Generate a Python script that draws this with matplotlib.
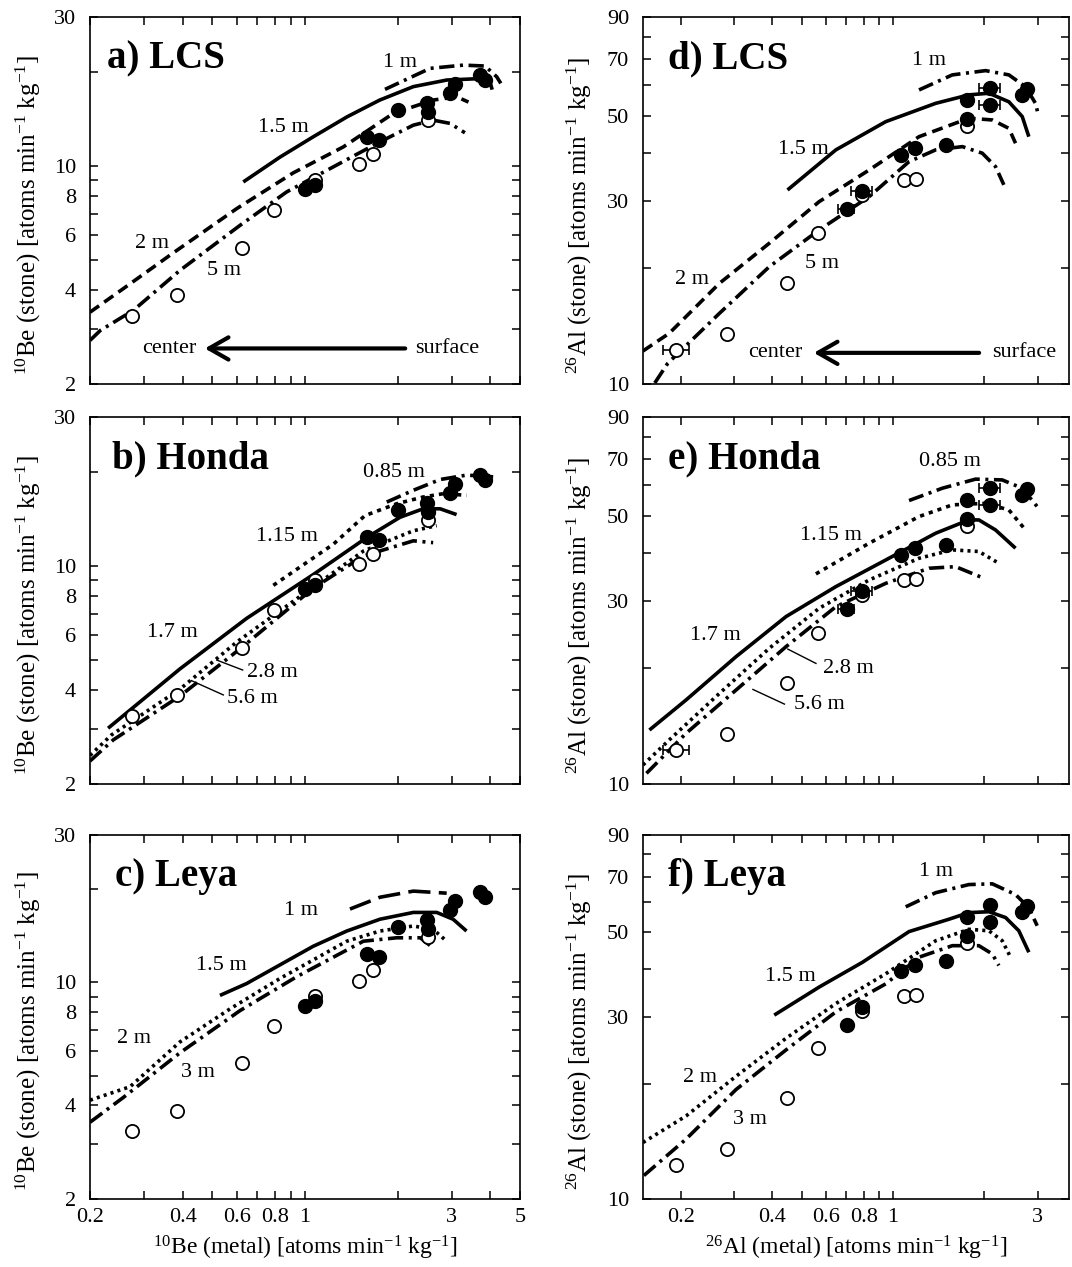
import matplotlib
matplotlib.use("Agg")
import matplotlib.pyplot as plt

plt.rcParams['font.family'] = ['Liberation Serif', 'DejaVu Serif']
plt.rcParams['mathtext.fontset'] = 'custom'
plt.rcParams['mathtext.rm'] = 'Liberation Serif'
plt.rcParams['mathtext.it'] = 'Liberation Serif:italic'
plt.rcParams['mathtext.bf'] = 'Liberation Serif:bold'
plt.rcParams['lines.scale_dashes'] = False

# measured samples, 10Be (same in panels a-c)
be_open_x = [0.274, 0.383, 0.625, 0.793, 1.078, 1.50, 1.667, 2.516]
be_open_y = [3.30, 3.85, 5.48, 7.22, 9.02, 10.13, 10.98, 14.05]
be_filled_x = [1.0, 1.078, 1.594, 1.744, 2.01, 2.487, 2.516, 2.95, 3.08, 3.71, 3.85]
be_filled_y = [8.42, 8.69, 12.37, 12.12, 15.13, 15.97, 14.94, 17.2, 18.3, 19.61, 18.89]

# measured samples, 26Al (same in panels d-f)
al_open_x = [0.193, 0.283, 0.446, 0.564, 0.793, 1.087, 1.188, 1.757]
al_open_y = [12.26, 13.5, 18.36, 24.77, 31.05, 33.98, 34.12, 46.97]
al_open_xerr = [0.019, 0.006, 0, 0, 0, 0, 0, 0]
al_filled_x = [0.703, 0.789, 1.066, 1.181, 1.491, 1.757, 1.757, 2.085, 2.085, 2.665, 2.768]
al_filled_y = [28.51, 31.86, 39.48, 41.11, 41.93, 54.9, 48.9, 59.1, 53.3, 56.6, 58.5]
al_filled_xerr = [0.042, 0.063, 0, 0.035, 0, 0, 0, 0.17, 0.17, 0, 0]

# model curves, LCS 10Be
lcs_be_1m_x = [1.82, 2.55, 3.27, 3.85, 4.2, 4.33]
lcs_be_1m_y = [17.64, 20.6, 21.1, 20.96, 19.36, 18.44]
lcs_be_15m_x = [0.63, 0.83, 1.06, 1.37, 1.75, 2.25, 2.89, 3.71, 3.99, 4.06]
lcs_be_15m_y = [8.9, 10.7, 12.4, 14.4, 16.3, 18.0, 18.9, 19.1, 18.7, 17.6]
lcs_be_2m_x = [0.2, 0.257, 0.373, 0.6, 0.916, 1.332, 1.936, 2.61, 3.11, 3.40]
lcs_be_2m_y = [3.40, 4.05, 5.27, 7.31, 9.52, 11.53, 14.77, 16.3, 16.7, 16.06]
lcs_be_5m_x = [0.2, 0.216, 0.277, 0.392, 0.615, 0.872, 1.236, 1.753, 2.25, 2.61, 2.96, 3.31]
lcs_be_5m_y = [2.76, 2.97, 3.45, 4.63, 6.46, 8.27, 9.95, 11.97, 13.54, 14.05, 13.72, 12.8]

# model curves, Honda 10Be
honda_be_085m_x = [1.844, 2.25, 2.75, 3.35, 4.09]
honda_be_085m_y = [16.06, 17.52, 18.97, 19.6, 19.35]
honda_be_115m_x = [0.789, 1.236, 1.566, 1.986, 2.42, 2.82, 3.35]
honda_be_115m_y = [8.68, 11.76, 14.53, 15.86, 16.67, 17.09, 16.88]
honda_be_17m_x = [0.229, 0.392, 0.646, 1.064, 1.588, 2.036, 2.42, 2.75, 3.11]
honda_be_17m_y = [3.02, 4.68, 6.80, 9.40, 12.36, 14.35, 15.28, 15.28, 14.64]
honda_be_28m_x = [0.2, 0.235, 0.392, 0.60, 1.013, 1.548, 1.753, 2.25, 2.68]
honda_be_28m_y = [2.47, 2.875, 4.03, 5.71, 8.29, 11.18, 11.76, 12.99, 13.49]
honda_be_56m_x = [0.2, 0.238, 0.392, 0.615, 1.064, 1.548, 2.25, 2.61]
honda_be_56m_y = [2.37, 2.77, 3.83, 5.43, 8.50, 10.78, 12.06, 11.9]

# model curves, Leya 10Be
leya_be_1m_x = [1.40, 1.753, 2.25, 2.888]
leya_be_1m_y = [17.28, 18.87, 19.75, 19.45]
leya_be_15m_x = [0.529, 0.646, 0.829, 1.064, 1.367, 1.753, 2.25, 2.68, 3.03, 3.35]
leya_be_15m_y = [9.08, 9.92, 11.4, 13.1, 14.67, 16.02, 16.85, 16.85, 16.02, 14.67]
leya_be_2m_x = [0.2, 0.270, 0.392, 0.570, 0.829, 1.367, 1.753, 2.25, 2.61, 2.888]
leya_be_2m_y = [4.16, 4.60, 6.42, 8.21, 10.3, 13.6, 14.67, 15.23, 14.85, 13.6]
leya_be_3m_x = [0.2, 0.257, 0.392, 0.615, 0.94, 1.548, 1.986, 2.37, 2.61]
leya_be_3m_y = [3.53, 4.25, 5.92, 8.11, 10.44, 13.6, 13.95, 13.95, 12.93]

# model curves, LCS 26Al
lcs_al_1m_x = [1.218, 1.568, 2.018, 2.408, 2.733, 2.947, 3.02]
lcs_al_1m_y = [58.3, 63.8, 65.45, 63.8, 59.4, 53.8, 49.7]
lcs_al_15m_x = [0.449, 0.648, 0.946, 1.382, 1.778, 2.07, 2.408, 2.665, 2.802]
lcs_al_15m_y = [32.0, 40.7, 48.2, 53.8, 56.6, 57.15, 54.3, 49.7, 44.05]
lcs_al_2m_x = [0.150, 0.183, 0.268, 0.391, 0.571, 0.834, 1.218, 1.778, 2.123, 2.408, 2.533]
lcs_al_2m_y = [12.19, 13.55, 18.29, 23.25, 29.84, 36.07, 44.05, 49.2, 48.7, 46.3, 42.35]
lcs_al_5m_x = [0.164, 0.181, 0.268, 0.391, 0.571, 0.834, 1.129, 1.382, 1.692, 1.968, 2.177, 2.318]
lcs_al_5m_y = [10.06, 11.32, 15.28, 20.2, 25.18, 30.74, 37.93, 40.7, 41.5, 39.9, 36.8, 33.0]

# model curves, Honda 26Al
honda_al_085m_x = [1.129, 1.454, 1.871, 2.29, 2.665, 2.985]
honda_al_085m_y = [54.7, 58.9, 62.2, 61.9, 58.9, 52.75]
honda_al_115m_x = [0.557, 0.834, 1.218, 1.568, 2.018, 2.408, 2.733]
honda_al_115m_y = [35.24, 42.35, 49.7, 53.3, 53.8, 51.7, 45.85]
honda_al_17m_x = [0.1575, 0.208, 0.304, 0.444, 0.648, 0.946, 1.382, 1.778, 1.918, 2.177, 2.533]
honda_al_17m_y = [13.82, 16.55, 21.46, 27.28, 32.65, 38.3, 44.97, 48.7, 48.7, 45.85, 41.1]
honda_al_28m_x = [0.15, 0.183, 0.268, 0.391, 0.571, 0.834, 1.218, 1.568, 1.918, 2.232]
honda_al_28m_y = [11.21, 13.02, 17.22, 22.56, 28.68, 33.98, 38.7, 40.7, 40.3, 37.55]
honda_al_56m_x = [0.154, 0.208, 0.304, 0.444, 0.648, 0.946, 1.314, 1.608, 1.992]
honda_al_56m_y = [10.66, 13.55, 17.57, 22.78, 28.95, 33.3, 36.45, 36.8, 34.33]

# model curves, Leya 26Al
leya_al_1m_x = [1.101, 1.382, 1.778, 2.123, 2.533, 2.802, 2.985]
leya_al_1m_y = [58.3, 63.5, 66.7, 67.0, 62.8, 58.0, 52.0]
leya_al_15m_x = [0.406, 0.571, 0.793, 1.129, 1.529, 1.778, 2.07, 2.348, 2.597, 2.802]
leya_al_15m_y = [30.3, 35.9, 41.7, 50.2, 54.1, 56.3, 56.6, 54.65, 50.45, 44.3]
leya_al_2m_x = [0.150, 0.208, 0.304, 0.444, 0.648, 0.946, 1.382, 1.778, 2.07, 2.29, 2.439]
leya_al_2m_y = [14.03, 16.47, 20.94, 26.34, 32.5, 38.9, 47.5, 50.9, 50.45, 47.5, 43.0]
leya_al_3m_x = [0.151, 0.208, 0.304, 0.444, 0.648, 0.946, 1.218, 1.568, 1.918, 2.123, 2.232]
leya_al_3m_y = [11.49, 14.32, 19.33, 24.55, 30.9, 36.6, 43.0, 46.1, 46.1, 43.85, 40.9]

be_xticks = [0.2, 0.3, 0.4, 0.5, 0.6, 0.7, 0.8, 0.9, 1, 2, 3, 4, 5]
be_xticklabels = ['0.2', '', '0.4', '', '0.6', '', '0.8', '', '1', '', '3', '', '5']
be_yticks = [2, 3, 4, 5, 6, 7, 8, 9, 10, 20, 30]
be_yticklabels = ['2', '', '4', '', '6', '', '8', '', '10', '', '30']
al_xticks = [0.2, 0.3, 0.4, 0.5, 0.6, 0.7, 0.8, 0.9, 1, 2, 3]
al_xticklabels = ['0.2', '', '0.4', '', '0.6', '', '0.8', '', '1', '', '3']
al_yticks = [10, 20, 30, 40, 50, 60, 70, 80, 90]
al_yticklabels = ['10', '', '30', '', '50', '', '70', '', '90']

STYLES = {
    'solid': dict(linestyle='-'),
    'dash': dict(dashes=(8, 4.5)),
    'dashdot': dict(dashes=(11, 4, 2.2, 4)),
    'longdash': dict(dashes=(16, 6)),
    'dot': dict(dashes=(2.2, 3.0)),
    'bigdot': dict(dashes=(3.0, 3.6)),
}


def curve(ax, x, y, style):
    ax.plot(x, y, color='black', lw=2.6, solid_capstyle='butt',
            dash_capstyle='butt', zorder=2, **STYLES[style])


def label(ax, x, y, s, **kw):
    ax.text(x, y, s, transform=ax.transAxes, fontsize=16, ha='center', va='center', **kw)


def title(ax, x, s):
    ax.text(x, 0.86, s, transform=ax.transAxes, fontsize=28, fontweight='bold',
            ha='left', va='baseline')


def leader(ax, x0, y0, x1, y1):
    ax.plot([x0, x1], [y0, y1], color='black', lw=1.0, transform=ax.transAxes)


def arrow(ax, y, x_from, x_to):
    ax.annotate('', xy=(x_to, y), xytext=(x_from, y), xycoords='axes fraction',
                arrowprops=dict(arrowstyle='->,head_length=0.7,head_width=0.4',
                                lw=3, color='black', mutation_scale=20,
                                shrinkA=0, shrinkB=0))


def setup(ax, kind, bottom):
    ax.set_xscale('log')
    ax.set_yscale('log')
    if kind == 'be':
        ax.set_xlim(0.2, 5)
        ax.set_ylim(2, 30)
        ax.set_xticks(be_xticks, labels=be_xticklabels if bottom else [''] * len(be_xticks))
        ax.set_yticks(be_yticks, labels=be_yticklabels)
        ax.set_ylabel(r'$^{10}$Be (stone) [atoms min$^{-1}$ kg$^{-1}$]', fontsize=18)
        ax.yaxis.set_label_coords(-0.11, 0.46)
        if bottom:
            ax.set_xlabel(r'$^{10}$Be (metal) [atoms min$^{-1}$ kg$^{-1}$]', fontsize=17, labelpad=5)
    else:
        ax.set_xlim(0.15, 3.8)
        ax.set_ylim(10, 90)
        ax.set_xticks(al_xticks, labels=al_xticklabels if bottom else [''] * len(al_xticks))
        ax.set_yticks(al_yticks, labels=al_yticklabels)
        ax.set_ylabel(r'$^{26}$Al (stone) [atoms min$^{-1}$ kg$^{-1}$]', fontsize=18)
        ax.yaxis.set_label_coords(-0.115, 0.46)
        if bottom:
            ax.set_xlabel(r'$^{26}$Al (metal) [atoms min$^{-1}$ kg$^{-1}$]', fontsize=17, labelpad=5)
    ax.minorticks_off()
    ax.tick_params(which='both', direction='in', top=True, right=True,
                   length=6, width=1.1, labelsize=16)
    ax.tick_params(axis='x', pad=7)
    ax.tick_params(axis='y', pad=10)
    for sp in ax.spines.values():
        sp.set_linewidth(1.2)


def points(ax, kind, errors):
    if kind == 'be':
        ax.plot(be_open_x, be_open_y, 'o', ms=9.5, mfc='white', mec='black', mew=1.3, zorder=3)
        ax.plot(be_filled_x, be_filled_y, 'o', ms=10, color='black', zorder=4)
    else:
        if errors:
            ax.errorbar(al_open_x, al_open_y, xerr=al_open_xerr, fmt='none', ecolor='black',
                        elinewidth=1.2, capsize=3.5, capthick=1.2, zorder=3)
            ax.errorbar(al_filled_x, al_filled_y, xerr=al_filled_xerr, fmt='none', ecolor='black',
                        elinewidth=1.2, capsize=3.5, capthick=1.2, zorder=3)
        ax.plot(al_open_x, al_open_y, 'o', ms=9.5, mfc='white', mec='black', mew=1.3, zorder=3)
        ax.plot(al_filled_x, al_filled_y, 'o', ms=10, color='black', zorder=4)


fig = plt.figure(figsize=(10.72, 12.67), dpi=100)
L = [0.08396, 0.40112]
R = [0.59981, 0.39739]
rows = [(0.69692, 0.28927), (0.38122, 0.28927), (0.05406, 0.28690)]

ax_a = fig.add_axes([L[0], rows[0][0], L[1], rows[0][1]])
ax_b = fig.add_axes([L[0], rows[1][0], L[1], rows[1][1]])
ax_c = fig.add_axes([L[0], rows[2][0], L[1], rows[2][1]])
ax_d = fig.add_axes([R[0], rows[0][0], R[1], rows[0][1]])
ax_e = fig.add_axes([R[0], rows[1][0], R[1], rows[1][1]])
ax_f = fig.add_axes([R[0], rows[2][0], R[1], rows[2][1]])

# a) LCS, 10Be
setup(ax_a, 'be', False)
curve(ax_a, lcs_be_1m_x, lcs_be_1m_y, 'dashdot')
curve(ax_a, lcs_be_15m_x, lcs_be_15m_y, 'solid')
curve(ax_a, lcs_be_2m_x, lcs_be_2m_y, 'dash')
curve(ax_a, lcs_be_5m_x, lcs_be_5m_y, 'dashdot')
points(ax_a, 'be', False)
title(ax_a, 0.039, 'a) LCS')
label(ax_a, 0.721, 0.876, '1 m')
label(ax_a, 0.449, 0.700, '1.5 m')
label(ax_a, 0.144, 0.384, '2 m')
label(ax_a, 0.312, 0.310, '5 m')
label(ax_a, 0.184, 0.097, 'center')
label(ax_a, 0.830, 0.097, 'surface')
arrow(ax_a, 0.097, 0.733, 0.267)

# b) Honda, 10Be
setup(ax_b, 'be', False)
curve(ax_b, honda_be_085m_x, honda_be_085m_y, 'dashdot')
curve(ax_b, honda_be_115m_x, honda_be_115m_y, 'bigdot')
curve(ax_b, honda_be_17m_x, honda_be_17m_y, 'solid')
curve(ax_b, honda_be_28m_x, honda_be_28m_y, 'dot')
curve(ax_b, honda_be_56m_x, honda_be_56m_y, 'dashdot')
points(ax_b, 'be', False)
title(ax_b, 0.050, 'b) Honda')
label(ax_b, 0.707, 0.851, '0.85 m')
label(ax_b, 0.458, 0.674, '1.15 m')
label(ax_b, 0.191, 0.412, '1.7 m')
label(ax_b, 0.423, 0.303, '2.8 m')
label(ax_b, 0.377, 0.232, '5.6 m')
leader(ax_b, 0.295, 0.338, 0.355, 0.311)
leader(ax_b, 0.236, 0.282, 0.310, 0.243)

# c) Leya, 10Be
setup(ax_c, 'be', True)
curve(ax_c, leya_be_1m_x, leya_be_1m_y, 'longdash')
curve(ax_c, leya_be_15m_x, leya_be_15m_y, 'solid')
curve(ax_c, leya_be_2m_x, leya_be_2m_y, 'dot')
curve(ax_c, leya_be_3m_x, leya_be_3m_y, 'dashdot')
points(ax_c, 'be', False)
title(ax_c, 0.058, 'c) Leya')
label(ax_c, 0.491, 0.792, '1 m')
label(ax_c, 0.305, 0.640, '1.5 m')
label(ax_c, 0.102, 0.440, '2 m')
label(ax_c, 0.251, 0.346, '3 m')

# d) LCS, 26Al
setup(ax_d, 'al', False)
curve(ax_d, lcs_al_1m_x, lcs_al_1m_y, 'dashdot')
curve(ax_d, lcs_al_15m_x, lcs_al_15m_y, 'solid')
curve(ax_d, lcs_al_2m_x, lcs_al_2m_y, 'dash')
curve(ax_d, lcs_al_5m_x, lcs_al_5m_y, 'dashdot')
points(ax_d, 'al', True)
title(ax_d, 0.058, 'd) LCS')
label(ax_d, 0.671, 0.884, '1 m')
label(ax_d, 0.376, 0.641, '1.5 m')
label(ax_d, 0.115, 0.284, '2 m')
label(ax_d, 0.420, 0.330, '5 m')
label(ax_d, 0.310, 0.085, 'center')
label(ax_d, 0.894, 0.085, 'surface')
arrow(ax_d, 0.085, 0.789, 0.401)

# e) Honda, 26Al
setup(ax_e, 'al', False)
curve(ax_e, honda_al_085m_x, honda_al_085m_y, 'dashdot')
curve(ax_e, honda_al_115m_x, honda_al_115m_y, 'bigdot')
curve(ax_e, honda_al_17m_x, honda_al_17m_y, 'solid')
curve(ax_e, honda_al_28m_x, honda_al_28m_y, 'dot')
curve(ax_e, honda_al_56m_x, honda_al_56m_y, 'dashdot')
points(ax_e, 'al', True)
title(ax_e, 0.058, 'e) Honda')
label(ax_e, 0.720, 0.879, '0.85 m')
label(ax_e, 0.441, 0.679, '1.15 m')
label(ax_e, 0.171, 0.404, '1.7 m')
label(ax_e, 0.481, 0.316, '2.8 m')
label(ax_e, 0.415, 0.216, '5.6 m')
leader(ax_e, 0.340, 0.368, 0.406, 0.329)
leader(ax_e, 0.258, 0.258, 0.332, 0.218)

# f) Leya, 26Al
setup(ax_f, 'al', True)
curve(ax_f, leya_al_1m_x, leya_al_1m_y, 'dashdot')
curve(ax_f, leya_al_15m_x, leya_al_15m_y, 'solid')
curve(ax_f, leya_al_2m_x, leya_al_2m_y, 'dot')
curve(ax_f, leya_al_3m_x, leya_al_3m_y, 'dashdot')
points(ax_f, 'al', False)
title(ax_f, 0.058, 'f) Leya')
label(ax_f, 0.688, 0.900, '1 m')
label(ax_f, 0.345, 0.610, '1.5 m')
label(ax_f, 0.134, 0.334, '2 m')
label(ax_f, 0.251, 0.218, '3 m')

fig.savefig('out.png', dpi=100)
